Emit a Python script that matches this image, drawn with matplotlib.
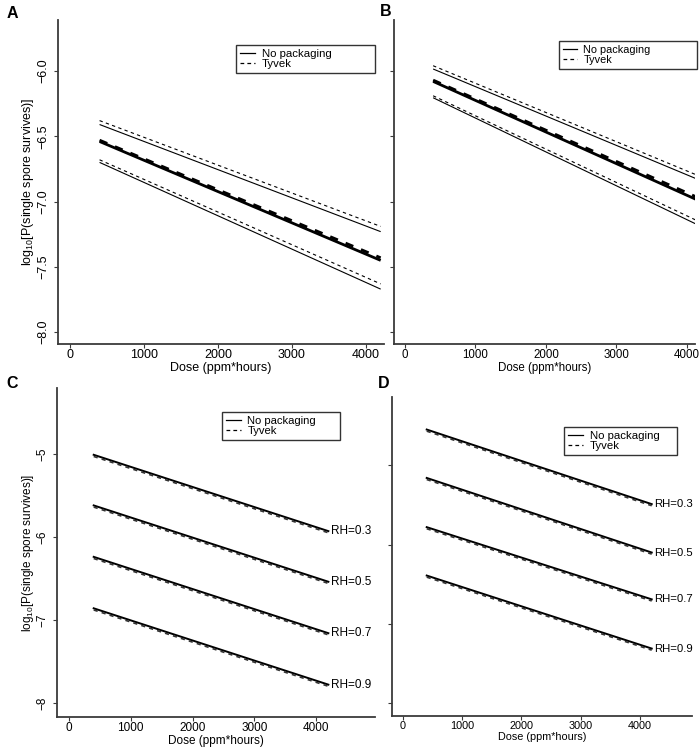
import matplotlib
matplotlib.use('Agg')
import matplotlib.pyplot as plt
from matplotlib.lines import Line2D

plt.rcParams['font.family'] = ['Liberation Sans', 'DejaVu Sans']
plt.rcParams['mathtext.fontset'] = 'custom'
plt.rcParams['mathtext.rm'] = 'Liberation Sans'
plt.rcParams['axes.unicode_minus'] = True

# Data (log10 survival probability at the ends of each line)
dose = [400, 4200]

# Panel A: fit with lower/upper bands
a_none_mid = [-6.54, -7.45]
a_none_up = [-6.41, -7.23]
a_none_lo = [-6.70, -7.67]
a_tyv_mid = [-6.53, -7.43]
a_tyv_up = [-6.38, -7.19]
a_tyv_lo = [-6.68, -7.63]

# Panel B
b_none_mid = [-6.08, -7.00]
b_none_up = [-5.985, -6.84]
b_none_lo = [-6.205, -7.19]
b_tyv_mid = [-6.07, -6.98]
b_tyv_up = [-5.96, -6.81]
b_tyv_lo = [-6.19, -7.16]

# Panels C and D: one line per relative humidity
rh_labels = ['RH=0.3', 'RH=0.5', 'RH=0.7', 'RH=0.9']
c_none = [[-5.01, -5.93], [-5.62, -6.54], [-6.24, -7.16], [-6.86, -7.78]]
c_tyv = [[-5.03, -5.95], [-5.64, -6.56], [-6.26, -7.18], [-6.88, -7.80]]
d_none = [[-4.55, -5.49], [-5.16, -6.10], [-5.78, -6.69], [-6.39, -7.31]]
d_tyv = [[-4.57, -5.51], [-5.18, -6.12], [-5.80, -6.71], [-6.41, -7.33]]

xticks = [0, 1000, 2000, 3000, 4000]
ab_yticks = [-6.0, -6.5, -7.0, -7.5, -8.0]
ab_ylabels = ['\u22126.0', '\u22126.5', '\u22127.0', '\u22127.5', '\u22128.0']
cd_yticks = [-5, -6, -7, -8]
cd_ylabels = ['\u22125', '\u22126', '\u22127', '\u22128']

W, H = 700, 751
fig = plt.figure(figsize=(W / 100, H / 100), dpi=100)


def px_axes(left, top, right, bottom):
    return fig.add_axes([left / W, 1 - bottom / H, (right - left) / W, (bottom - top) / H])


def style(ax, xlim, ylim, yticks, ylabels, fs, show_ylab):
    ax.set_xlim(xlim)
    ax.set_ylim(ylim)
    for s in ['top', 'right']:
        ax.spines[s].set_visible(False)
    for s in ['left', 'bottom']:
        ax.spines[s].set_color('#3a3a3a')
        ax.spines[s].set_linewidth(1.3)
    ax.set_xticks(xticks)
    ax.set_xticklabels([str(t) for t in xticks], fontsize=fs)
    ax.set_yticks(yticks)
    if show_ylab:
        ax.set_yticklabels(ylabels, fontsize=fs, rotation=90, va='center')
    else:
        ax.set_yticklabels([])
    ax.tick_params(length=3, width=0.8, color='#3a3a3a', pad=0.8)
    ax.tick_params(axis='y', pad=3.5)
    ax.set_xlabel('Dose (ppm*hours)', fontsize=fs, labelpad=0.3)
    if show_ylab:
        ax.set_ylabel(r'log$_{\mathrm{10}}$[P(single spore survives)]', fontsize=fs)


def add_legend(ax, box, fs):
    handles = [Line2D([], [], color='black', lw=0.9, ls='-'),
               Line2D([], [], color='black', lw=0.9, ls=(0, (3, 2.5)))]
    leg = ax.legend(handles, ['No packaging', 'Tyvek'], loc='upper left',
                    bbox_to_anchor=box, mode='expand', fontsize=fs, frameon=True,
                    fancybox=False, handlelength=1.3, handletextpad=0.6,
                    labelspacing=0.0, borderpad=0.35, borderaxespad=0)
    leg.get_frame().set_edgecolor('black')
    leg.get_frame().set_linewidth(1.0)


# Panel A
axA = px_axes(58, 20, 384, 344)
for ys, lw in [(a_none_up, 0.8), (a_none_mid, 2.0), (a_none_lo, 0.8)]:
    axA.plot(dose, ys, color='black', lw=lw, solid_capstyle='butt')
for ys, lw in [(a_tyv_up, 0.8), (a_tyv_mid, 2.0), (a_tyv_lo, 0.8)]:
    axA.plot(dose, ys, color='black', lw=lw, ls=(0, (3, 3)))
style(axA, (-162, 4245), (-8.09, -5.61), ab_yticks, ab_ylabels, 9, True)
axA.yaxis.set_label_coords(-0.066, 0.5)
add_legend(axA, (0.546, 0.833, 0.426, 0.09), 8.2)

# Panel B
axB = px_axes(394, 20, 695, 344)
for ys, lw in [(b_none_up, 0.8), (b_none_mid, 2.0), (b_none_lo, 0.8)]:
    axB.plot(dose, ys, color='black', lw=lw, solid_capstyle='butt')
for ys, lw in [(b_tyv_up, 0.8), (b_tyv_mid, 2.0), (b_tyv_lo, 0.8)]:
    axB.plot(dose, ys, color='black', lw=lw, ls=(0, (3, 3)))
style(axB, (-155, 4115), (-8.09, -5.61), ab_yticks, ab_ylabels, 8.3, False)
add_legend(axB, (0.548, 0.846, 0.458, 0.089), 7.8)

# Panel C
axC = px_axes(57, 388, 375, 717)
for ys_n, ys_t, lab in zip(c_none, c_tyv, rh_labels):
    axC.plot(dose, ys_n, color='black', lw=1.4)
    axC.plot(dose, ys_t, color='#333333', lw=1.2, ls=(0, (2.5, 2.5)))
    axC.text(dose[-1] + 40, ys_n[-1], lab, fontsize=8.5, ha='left', va='center')
style(axC, (-194, 4955), (-8.17, -4.205), cd_yticks, cd_ylabels, 8.5, True)
axC.yaxis.set_label_coords(-0.066, 0.5)
add_legend(axC, (0.519, 0.836, 0.371, 0.091), 8.1)

# Panel D
axD = px_axes(392, 397, 692, 716)
for ys_n, ys_t, lab in zip(d_none, d_tyv, rh_labels):
    axD.plot(dose, ys_n, color='black', lw=1.4)
    axD.plot(dose, ys_t, color='#333333', lw=1.2, ls=(0, (2.5, 2.5)))
    axD.text(dose[-1] + 40, ys_n[-1], lab, fontsize=8.2, ha='left', va='center')
style(axD, (-186, 4880), (-8.16, -4.14), cd_yticks, cd_ylabels, 7.8, False)
add_legend(axD, (0.573, 0.821, 0.377, 0.085), 8.2)

# Panel letters
for lab, x, y in [('A', 7, 13), ('B', 380, 12), ('C', 6, 384), ('D', 378, 384)]:
    fig.text(x / W, 1 - y / H, lab, fontsize=11.5, fontweight='bold', va='center', ha='left')

fig.savefig('out.png', dpi=100)
